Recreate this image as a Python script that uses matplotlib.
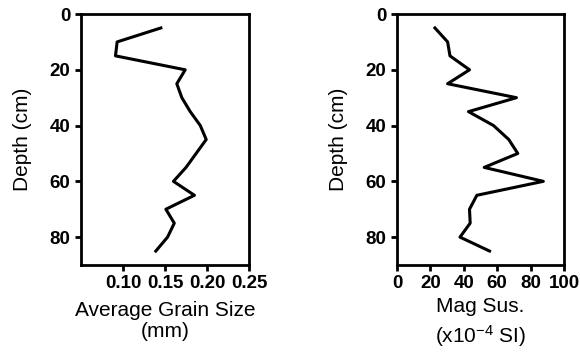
import numpy as np
import matplotlib.pyplot as plt

plt.rcParams['font.family'] = ['Liberation Sans', 'DejaVu Sans']
plt.rcParams['mathtext.fontset'] = 'custom'
plt.rcParams['mathtext.rm'] = 'Liberation Sans'
plt.rcParams['mathtext.it'] = 'Liberation Sans:italic'

# depth of each sample (cm)
depth = [5, 10, 15, 20, 25, 30, 35, 40, 45, 50, 55, 60, 65, 70, 75, 80, 85]
# average grain size (mm)
grain = [0.145, 0.093, 0.091, 0.174, 0.164, 0.170, 0.180, 0.192, 0.199, 0.187,
         0.175, 0.160, 0.185, 0.151, 0.161, 0.153, 0.139]
# magnetic susceptibility (x10^-4 SI)
magsus = [22.7, 30.3, 31.7, 43.4, 30.3, 71.5, 42.8, 57.8, 66.9, 72.3,
          52.2, 87.6, 47.8, 43.4, 43.8, 37.7, 55.4]

fig = plt.figure(figsize=(5.8, 3.54), dpi=100)
ax1 = fig.add_axes([0.1397, 0.2514, 0.2897, 0.709])
ax2 = fig.add_axes([0.6845, 0.2514, 0.288, 0.709])


def style(ax):
    for s in ax.spines.values():
        s.set_linewidth(2)
    ax.tick_params(direction='out', length=4.5, width=2, pad=3, labelsize=13.5)
    for lab in ax.get_xticklabels() + ax.get_yticklabels():
        lab.set_fontweight('bold')
    ax.set_ylim(90, 0)
    ax.set_yticks([0, 20, 40, 60, 80])
    ax.set_ylabel('Depth (cm)', fontsize=15, labelpad=13)


ax1.plot(grain, depth, color='black', lw=2.2)
ax1.set_xlim(0.05, 0.25)
ax1.set_xticks([0.10, 0.15, 0.20, 0.25])
ax1.set_xticklabels(['0.10', '0.15', '0.20', '0.25'])
ax1.set_xlabel('Average Grain Size\n(mm)', fontsize=15, labelpad=6, linespacing=1.15)
style(ax1)

ax2.plot(magsus, depth, color='black', lw=2.2)
ax2.set_xlim(0, 100)
ax2.set_xticks([0, 20, 40, 60, 80, 100])
ax2.set_xlabel('Mag Sus.\n(x10$^{-4}$ SI)', fontsize=15, labelpad=3, linespacing=1.4)
style(ax2)

plt.savefig('out.png', dpi=100)
